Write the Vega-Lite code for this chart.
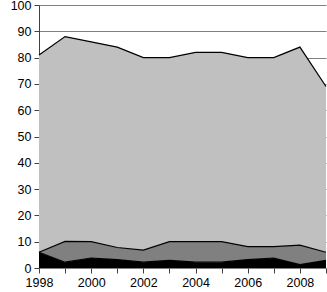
{
  "$schema": "https://vega.github.io/schema/vega-lite/v6.json",
  "width": 287,
  "height": 263,
  "autosize": {"type": "none"},
  "padding": {"left": 39, "top": 5, "right": 1, "bottom": 24},
  "background": "white",
  "config": {
    "view": {"stroke": null},
    "font": "Liberation Sans",
    "axis": {"labelFont": "Liberation Sans", "labelFontSize": 12.5, "labelColor": "#000000", "tickColor": "#404040", "domainColor": "#404040", "tickSize": 5, "labelOverlap": false}
  },
  "data": {
    "values": [
      {"year": 1998, "series": "a", "order": 1, "value": 6},
      {"year": 1999, "series": "a", "order": 1, "value": 2.2},
      {"year": 2000, "series": "a", "order": 1, "value": 3.8},
      {"year": 2001, "series": "a", "order": 1, "value": 3.2},
      {"year": 2002, "series": "a", "order": 1, "value": 2.2},
      {"year": 2003, "series": "a", "order": 1, "value": 2.9},
      {"year": 2004, "series": "a", "order": 1, "value": 2.2},
      {"year": 2005, "series": "a", "order": 1, "value": 2.2},
      {"year": 2006, "series": "a", "order": 1, "value": 3.2},
      {"year": 2007, "series": "a", "order": 1, "value": 3.8},
      {"year": 2008, "series": "a", "order": 1, "value": 1.3},
      {"year": 2009, "series": "a", "order": 1, "value": 2.9},
      {"year": 1998, "series": "b", "order": 2, "value": 0},
      {"year": 1999, "series": "b", "order": 2, "value": 7.9},
      {"year": 2000, "series": "b", "order": 2, "value": 6.2},
      {"year": 2001, "series": "b", "order": 2, "value": 4.6},
      {"year": 2002, "series": "b", "order": 2, "value": 4.6},
      {"year": 2003, "series": "b", "order": 2, "value": 7.1},
      {"year": 2004, "series": "b", "order": 2, "value": 7.8},
      {"year": 2005, "series": "b", "order": 2, "value": 7.8},
      {"year": 2006, "series": "b", "order": 2, "value": 4.9},
      {"year": 2007, "series": "b", "order": 2, "value": 4.3},
      {"year": 2008, "series": "b", "order": 2, "value": 7.4},
      {"year": 2009, "series": "b", "order": 2, "value": 3.1},
      {"year": 1998, "series": "c", "order": 3, "value": 75},
      {"year": 1999, "series": "c", "order": 3, "value": 77.9},
      {"year": 2000, "series": "c", "order": 3, "value": 76},
      {"year": 2001, "series": "c", "order": 3, "value": 76.2},
      {"year": 2002, "series": "c", "order": 3, "value": 73.2},
      {"year": 2003, "series": "c", "order": 3, "value": 70},
      {"year": 2004, "series": "c", "order": 3, "value": 72},
      {"year": 2005, "series": "c", "order": 3, "value": 72},
      {"year": 2006, "series": "c", "order": 3, "value": 71.9},
      {"year": 2007, "series": "c", "order": 3, "value": 71.9},
      {"year": 2008, "series": "c", "order": 3, "value": 75.3},
      {"year": 2009, "series": "c", "order": 3, "value": 63}
    ]
  },
  "encoding": {
    "x": {
      "field": "year", "type": "quantitative",
      "scale": {"domain": [1998, 2009], "nice": false, "zero": false},
      "axis": {"title": null, "grid": false, "values": [1998,1999,2000,2001,2002,2003,2004,2005,2006,2007,2008,2009], "labelExpr": "datum.value % 2 == 0 ? format(datum.value, 'd') : ''", "labelPadding": 3, "labelFlush": false, "domain": false}
    },
    "y": {
      "field": "value", "type": "quantitative", "stack": "zero",
      "scale": {"domain": [0, 100], "nice": false},
      "axis": {"title": null, "grid": true, "gridColor": "#808080", "gridWidth": 1, "values": [0,10,20,30,40,50,60,70,80,90,100], "labelPadding": 3, "domain": true}
    },
    "order": {"field": "order", "type": "quantitative"}
  },
  "layer": [
    {
      "mark": {"type": "area", "opacity": 1, "fillOpacity": 1},
      "encoding": {
        "color": {
          "field": "series", "type": "nominal",
          "scale": {"domain": ["a", "b", "c"], "range": ["#000000", "#808080", "#c0c0c0"]},
          "legend": null
        }
      }
    },
    {
      "mark": {"type": "line", "color": "#000000", "strokeWidth": 1.2},
      "encoding": {
        "detail": {"field": "series", "type": "nominal"}
      }
    }
  ]
}
